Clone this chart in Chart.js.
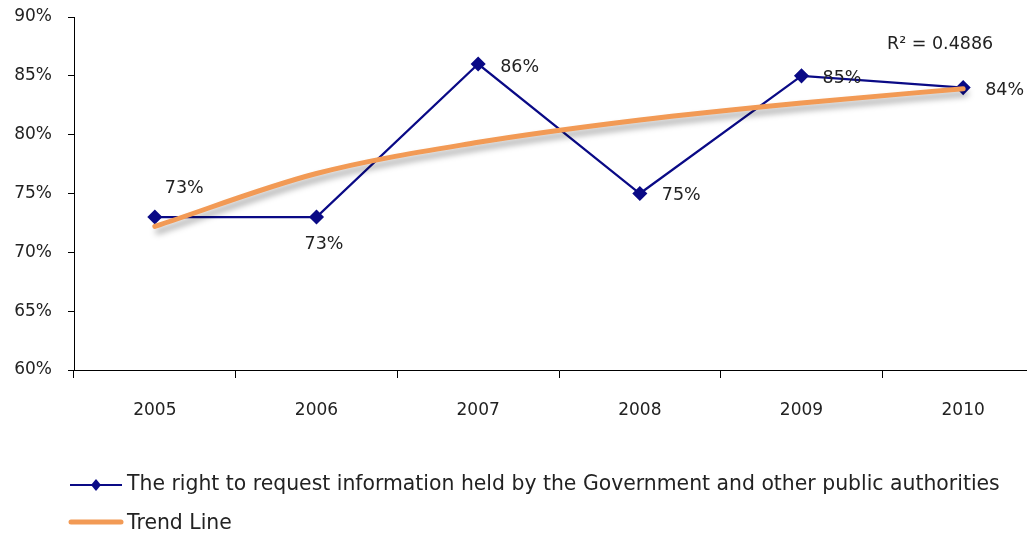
<!DOCTYPE html>
<html>
<head>
<meta charset="utf-8">
<script src="https://cdn.jsdelivr.net/npm/chart.js@4.4.1/dist/chart.umd.min.js"></script>
<style>
  html, body { margin: 0; padding: 0; background: #fff; overflow: hidden; }
  #wrap { width: 1060px; height: 531px; }
</style>
</head>
<body>
<div id="wrap"><canvas id="chart" width="1060" height="531"></canvas></div>
<script>
'use strict';

// ── Data ──────────────────────────────────────────────────────────────────────
const years = ['2005', '2006', '2007', '2008', '2009', '2010'];
const rightToRequest = [73, 73, 86, 75, 85, 84];
const trendLine = [72.2, 76.7, 79.35, 81.25, 82.7, 83.9];
const yTicks = [60, 65, 70, 75, 80, 85, 90];
const seriesName = 'The right to request information held by the Government and other public authorities';
const trendName = 'Trend Line';
const rSquared = 'R² = 0.4886';

// ── Look ──────────────────────────────────────────────────────────────────────
const FONT = '"DejaVu Sans", sans-serif';
const NAVY = '#0A0A86';
const ORANGE = '#F29A55';
const TEXT = '#222';
// where each value label sits relative to its point: [dx, dy]
const labelOffsets = [[10, -29], [-12, 27], [22, 3], [22, 2], [21, 3], [22, 3]];

// ── Plugins ───────────────────────────────────────────────────────────────────
const trendShadow = {
  id: 'trendShadow',
  beforeDatasetDraw(chart, args) {
    if (args.index !== 1) return;
    const ctx = chart.ctx;
    ctx.save();
    ctx.shadowColor = 'rgba(0,0,0,0.35)';
    ctx.shadowBlur = 6;
    ctx.shadowOffsetX = 3;
    ctx.shadowOffsetY = 5;
  },
  afterDatasetDraw(chart, args) {
    if (args.index !== 1) return;
    chart.ctx.restore();
  },
};

const valueLabels = {
  id: 'valueLabels',
  afterDatasetsDraw(chart) {
    const ctx = chart.ctx;
    const pts = chart.getDatasetMeta(0).data;
    ctx.save();
    ctx.font = '17.5px ' + FONT;
    ctx.fillStyle = TEXT;
    ctx.textAlign = 'left';
    ctx.textBaseline = 'middle';
    pts.forEach((p, i) => {
      let [dx, dy] = labelOffsets[i];
      ctx.fillText(rightToRequest[i] + '%', p.x + dx, p.y + dy);
    });
    ctx.fillText(rSquared, 887, 44);
    ctx.restore();
  },
};

const bottomLegend = {
  id: 'bottomLegend',
  afterDraw(chart) {
    const ctx = chart.ctx;
    ctx.save();
    ctx.font = '20.4px ' + FONT;
    ctx.fillStyle = TEXT;
    ctx.textBaseline = 'middle';

    // series line with diamond
    ctx.strokeStyle = NAVY;
    ctx.lineWidth = 2;
    ctx.beginPath();
    ctx.moveTo(70, 485);
    ctx.lineTo(122, 485);
    ctx.stroke();
    ctx.fillStyle = NAVY;
    ctx.beginPath();
    ctx.moveTo(96, 479);
    ctx.lineTo(101, 485);
    ctx.lineTo(96, 491);
    ctx.lineTo(91, 485);
    ctx.closePath();
    ctx.fill();
    ctx.fillStyle = TEXT;
    ctx.fillText(seriesName, 127, 485);

    // trend line
    ctx.strokeStyle = ORANGE;
    ctx.lineWidth = 5;
    ctx.lineCap = 'round';
    ctx.beginPath();
    ctx.moveTo(71, 522);
    ctx.lineTo(121, 522);
    ctx.stroke();
    ctx.fillText(trendName, 127, 524);
    ctx.restore();
  },
};

// ── Chart ─────────────────────────────────────────────────────────────────────
new Chart(document.getElementById('chart'), {
  type: 'line',
  data: {
    labels: years,
    datasets: [
      {
        label: seriesName,
        data: rightToRequest,
        borderColor: NAVY,
        backgroundColor: NAVY,
        borderWidth: 2.2,
        pointStyle: 'rectRot',
        pointRadius: 6,
        pointHoverRadius: 6,
        tension: 0,
        order: 2,
      },
      {
        label: trendName,
        data: trendLine,
        borderColor: ORANGE,
        borderWidth: 5,
        borderCapStyle: 'round',
        pointRadius: 0,
        cubicInterpolationMode: 'monotone',
        order: 1,
      },
    ],
  },
  options: {
    responsive: false,
    animation: false,
    layout: { padding: { top: 0, right: 16, bottom: 0, left: 0 } },
    plugins: { legend: { display: false }, tooltip: { enabled: false } },
    scales: {
      x: {
        offset: true,
        grid: { display: true, drawOnChartArea: false, offset: true, tickLength: 8, color: '#000' },
        border: { color: '#000', width: 1 },
        ticks: { color: TEXT, font: { family: FONT, size: 17 }, padding: 22 },
        afterFit(scale) { scale.height = 161; },
      },
      y: {
        min: 60,
        max: 90,
        afterBuildTicks(scale) { scale.ticks = yTicks.map(v => ({ value: v })); },
        grid: { display: true, drawOnChartArea: false, tickLength: 6, color: '#000' },
        border: { color: '#000', width: 1 },
        ticks: {
          color: TEXT,
          font: { family: FONT, size: 17 },
          padding: 16,
          callback: v => v + '%',
        },
        afterFit(scale) {
          scale.width = 74;
          scale.paddingTop = 17;
          scale.paddingBottom = 0;
        },
      },
    },
  },
  plugins: [trendShadow, valueLabels, bottomLegend],
});
</script>
</body>
</html>
